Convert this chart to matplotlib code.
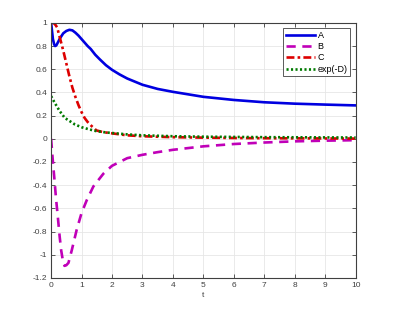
import matplotlib
matplotlib.use('Agg')
import matplotlib.pyplot as plt

plt.rcParams['font.family'] = ['Liberation Sans', 'DejaVu Sans']

# series
t_a = [0, 0.03, 0.06, 0.1, 0.13, 0.17, 0.22, 0.3, 0.4, 0.5, 0.6, 0.7, 0.8, 0.9, 1.0,
       1.1, 1.2, 1.3, 1.45, 1.6, 1.8, 2, 2.25, 2.5, 3, 3.5, 4, 5, 6, 7, 8, 9, 10]
a = [1.0, 0.93, 0.86, 0.815, 0.80, 0.805, 0.83, 0.87, 0.91, 0.93, 0.94, 0.935, 0.915,
     0.89, 0.86, 0.83, 0.80, 0.775, 0.725, 0.685, 0.635, 0.595, 0.555, 0.52, 0.466,
     0.43, 0.405, 0.362, 0.335, 0.315, 0.303, 0.295, 0.288]

t_b = [0, 0.03, 0.06, 0.11, 0.16, 0.22, 0.28, 0.33, 0.38, 0.44, 0.5, 0.57, 0.68,
       0.84, 1.0, 1.17, 1.39, 1.72, 2, 2.5, 3, 3.5, 4, 5, 6, 7, 8, 9, 10]
b = [0, -0.1, -0.2, -0.35, -0.51, -0.67, -0.84, -0.96, -1.04, -1.096, -1.09, -1.07,
     -0.96, -0.785, -0.64, -0.53, -0.41, -0.30, -0.233, -0.167, -0.138, -0.115,
     -0.095, -0.065, -0.045, -0.032, -0.022, -0.016, -0.012]

t_c = [0, 0.05, 0.1, 0.15, 0.2, 0.3, 0.4, 0.5, 0.6, 0.7, 0.8, 0.9, 1.0, 1.1, 1.2,
       1.33, 1.49, 1.7, 1.94, 2.5, 3, 4, 5, 6, 7, 8, 9, 10]
c = [1.0, 1.0, 0.995, 0.98, 0.96, 0.86, 0.76, 0.65, 0.54, 0.44, 0.36, 0.29, 0.23,
     0.18, 0.145, 0.11, 0.072, 0.058, 0.049, 0.03, 0.022, 0.014, 0.01, 0.007, 0.005,
     0.004, 0.003, 0.002]

t_d = [0, 0.12, 0.28, 0.45, 0.61, 0.78, 1.0, 1.27, 1.49, 1.8, 2, 2.5, 3, 4, 5, 6, 7,
       8, 9, 10]
d = [0.368, 0.31, 0.24, 0.18, 0.153, 0.124, 0.10, 0.08, 0.066, 0.055, 0.05, 0.038,
     0.03, 0.022, 0.018, 0.016, 0.014, 0.013, 0.012, 0.011]

labels = ['A', 'B', 'C', 'exp(-D)']
yticks = [1, 0.8, 0.6, 0.4, 0.2, 0, -0.2, -0.4, -0.6, -0.8, -1, -1.2]

fig = plt.figure(figsize=(3.93, 3.13), dpi=100)
ax = fig.add_axes([0.13, 0.112, 0.775, 0.815])

ax.plot(t_a, a, color='#0000e0', lw=1.9, label=labels[0])
ax.plot(t_b, b, color='#c000b8', lw=1.9, dashes=(3.5, 2.5), label=labels[1])
ax.plot(t_c, c, color='#dd0000', lw=1.9, dashes=(3, 1.2, 1, 1.2), label=labels[2])
ax.plot(t_d, d, color='#007a00', lw=1.9, dashes=(0.8, 0.9), label=labels[3])

ax.set_xlim(0, 10)
ax.set_ylim(-1.2, 1)
ax.set_xticks(range(0, 11))
ax.set_yticks(yticks)
ax.set_yticklabels(['%g' % v for v in yticks])
ax.grid(True, color='#e6e6e6', lw=0.6)
ax.set_axisbelow(True)
ax.tick_params(direction='in', length=3, width=0.6, labelsize=6, colors='#404040',
               top=True, right=True, pad=3)
for s in ax.spines.values():
    s.set_color('#404040')
    s.set_linewidth(0.8)
ax.set_xlabel('t', fontsize=6, color='#404040', labelpad=2)

leg = ax.legend(loc='upper right', fontsize=6.5, handlelength=3.2, handletextpad=0.3,
                borderpad=0.3, labelspacing=0.25, fancybox=False, framealpha=1,
                borderaxespad=0.6)
leg.get_frame().set_edgecolor('#404040')
leg.get_frame().set_linewidth(0.6)

fig.savefig('out.png', dpi=100)
